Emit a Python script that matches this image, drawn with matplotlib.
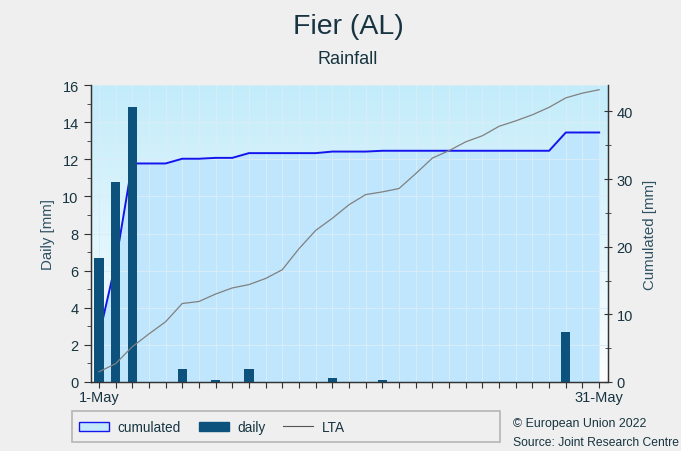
import matplotlib
matplotlib.use("Agg")
import matplotlib.pyplot as plt
import numpy as np
from matplotlib.patches import Patch, Rectangle
from matplotlib.lines import Line2D

plt.rcParams['font.family'] = ['Liberation Sans', 'DejaVu Sans']

# data
days = list(range(1, 32))
daily = [6.7, 10.8, 14.8, 0.0, 0.0, 0.7, 0.0, 0.13, 0.0, 0.7,
         0.0, 0.0, 0.0, 0.0, 0.23, 0.0, 0.0, 0.12, 0.0, 0.0,
         0.0, 0.0, 0.0, 0.0, 0.0, 0.0, 0.0, 0.0, 2.7, 0.0, 0.0]
lta = [1.5, 2.7, 5.2, 7.1, 8.9, 11.6, 11.9, 13.0, 13.9, 14.4,
       15.3, 16.6, 19.7, 22.4, 24.2, 26.2, 27.7, 28.1, 28.6, 30.8,
       33.1, 34.2, 35.5, 36.4, 37.8, 38.6, 39.5, 40.6, 42.0, 42.7, 43.2]
xtick_labels = {1: "1-May", 31: "31-May"}

cumulated = np.cumsum(daily)

txt = '#173440'
lbl = '#2f5263'
bg = '#efefef'

fig = plt.figure(figsize=(6.81, 4.52), dpi=100, facecolor=bg)
ax = fig.add_axes([90.5 / 681, 69 / 452, 517 / 681, 297 / 452])
ax2 = ax.twinx()

ax.set_xlim(0.5, 31.5)
ax.set_ylim(0, 16)
ax2.set_ylim(0, 43.9)
ax.autoscale(False)

# gradient background
grad = np.linspace(0, 1, 256).reshape(-1, 1)
top = np.array([195, 236, 250]) / 255
bot = np.array([252, 254, 255]) / 255
img = top * (1 - grad[..., None]) + bot * grad[..., None]
ax.imshow(img, extent=[0, 1, 0, 1], transform=ax.transAxes, aspect='auto', zorder=0)

# cumulated area + line (right scale), drawn on the base axes so bars sit on top
ax.fill_between(days, cumulated, 0, transform=ax2.transData, color='#bfe6fc', zorder=1, lw=0)
ax.plot(days, cumulated, transform=ax2.transData, color='#1414ee', lw=1.4, zorder=2)

# daily bars
ax.bar(days, daily, width=0.56, color='#0c527d', zorder=3)

# LTA
ax2.plot(days, lta, color='#808080', lw=0.9, zorder=4)

# grid
ax.set_xticks(days)
ax.set_xticklabels([xtick_labels.get(d, "") for d in days])
ax.set_yticks(np.arange(0, 17, 2))
ax.set_yticks(np.arange(0, 17, 1), minor=True)
ax.grid(True, which='major', color='#d9edf8', lw=0.7, zorder=1.5)

ax2.set_yticks(np.arange(0, 41, 10))
ax2.set_yticks(np.arange(0, 44, 5), minor=True)

for a in (ax, ax2):
    a.spines['top'].set_visible(False)
    for s in ('left', 'right', 'bottom'):
        a.spines[s].set_color('#333333')
        a.spines[s].set_linewidth(0.9)

ax.tick_params(axis='both', which='both', colors='#333333', labelcolor=txt, labelsize=10.5)
ax.tick_params(axis='y', which='major', length=5)
ax.tick_params(axis='y', which='minor', length=3)
ax.tick_params(axis='x', length=4, pad=2)
ax2.tick_params(axis='y', which='both', direction='inout', colors='#333333', labelcolor=txt, labelsize=10.5)
ax2.tick_params(axis='y', which='major', length=6)
ax2.tick_params(axis='y', which='minor', length=5)

ax.set_ylabel("Daily [mm]", color=lbl, fontsize=10.8, labelpad=5)
ax2.set_ylabel("Cumulated [mm]", color=lbl, fontsize=10.8, labelpad=7)

# titles
fig.text(348 / 681, 1 - 27 / 452, "Fier (AL)", ha='center', va='center', fontsize=20.5, color=txt)
fig.text(348 / 681, 1 - 59 / 452, "Rainfall", ha='center', va='center', fontsize=13, color=txt)

# legend box
fig.patches.append(Rectangle((72 / 681, 1 - 443 / 452), 428 / 681, 31 / 452,
                             transform=fig.transFigure, facecolor=bg, edgecolor='#b5b5b5', lw=1.2))
handles = [Patch(facecolor='#c4e9fd', edgecolor='#1414ee', lw=1),
           Patch(facecolor='#0c527d', edgecolor='#0c527d'),
           Line2D([], [], color='#555555', lw=0.8)]
fig.legend(handles, ["cumulated", "daily", "LTA"], ncol=3, frameon=False,
           loc='center left', bbox_to_anchor=(79 / 681, 1 - 428 / 452),
           borderaxespad=0, borderpad=0,
           fontsize=9.8, labelcolor=txt, handlelength=2.2, handleheight=0.6,
           columnspacing=1.3, handletextpad=0.65)

fig.text(513 / 681, 1 - 424 / 452, "© European Union 2022", fontsize=8.9, color=txt, va='center')
fig.text(513 / 681, 1 - 443 / 452, "Source: Joint Research Centre", fontsize=8.7, color=txt, va='center')

fig.savefig("out.png", dpi=100, facecolor=bg)
